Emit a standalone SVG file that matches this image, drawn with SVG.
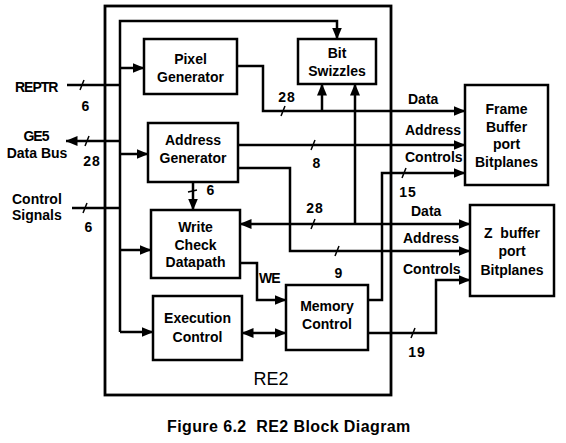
<svg xmlns="http://www.w3.org/2000/svg" width="566" height="443" viewBox="0 0 566 443">
<defs>
<marker id="ah" viewBox="0 0 12 10" refX="11.5" refY="5" markerWidth="12" markerHeight="10" markerUnits="userSpaceOnUse" orient="auto-start-reverse">
<path d="M0,0 L12,5 L0,10 z" fill="#000"/>
</marker>
<style>
.box{fill:#fff;stroke:#000;stroke-width:2.5}
.frame{fill:none;stroke:#000;stroke-width:2.8}
.ln{fill:none;stroke:#000;stroke-width:2.5}
.arr{fill:none;stroke:#000;stroke-width:2.5;marker-end:url(#ah)}
.dbl{fill:none;stroke:#000;stroke-width:2.5;marker-start:url(#ah);marker-end:url(#ah)}
.tick{stroke:#000;stroke-width:1.5}
text{font-family:"Liberation Sans",Arial,sans-serif;font-size:14px;font-weight:bold;fill:#000;white-space:pre}
.c{text-anchor:middle}
.num{font-size:14px;letter-spacing:1px}
.re2{font-size:18px;font-weight:normal}
.cap{font-size:16px;letter-spacing:0.4px}
</style>
</defs>
<rect width="566" height="443" fill="#fff"/>
<rect id="re2-frame" class="frame" x="105" y="6" width="286" height="389"/>
<text class="re2 c" x="271" y="385">RE2</text>

<g id="connectors">
<path class="arr" d="M120,332 V21 H337 V39"/>
<path class="arr" d="M120,68 H144"/>
<path class="arr" d="M120,154 H148"/>
<path class="arr" d="M120,250 H151"/>
<path class="arr" d="M120,332 H153"/>
<path class="ln" d="M67,85 H120"/>
<path class="arr" d="M120,141 H66"/>
<path class="ln" d="M72,208 H120"/>
<path class="arr" d="M237,66 H263 V111 H465"/>
<path class="arr" d="M322,111 V84"/>
<path class="arr" d="M238,145 H465"/>
<path class="arr" d="M238,168 H290 V251 H470"/>
<path class="arr" d="M193,182 V210"/>
<path class="dbl" d="M240,224 H470"/>
<path class="arr" d="M355,224 V84"/>
<path class="arr" d="M240,263 H257 V300 H286"/>
<path class="dbl" d="M242,333 H286"/>
<path class="arr" d="M368,300 H382 V173 H465"/>
<path class="arr" d="M368,333 H436 V280 H470"/>
<line class="tick" x1="80" y1="90" x2="84" y2="80"/>
<line class="tick" x1="85" y1="146" x2="89" y2="136"/>
<line class="tick" x1="83" y1="213" x2="87" y2="203"/>
<line class="tick" x1="188" y1="192" x2="197" y2="190"/>
<line class="tick" x1="281" y1="116" x2="285" y2="106"/>
<line class="tick" x1="311" y1="150" x2="315" y2="140"/>
<line class="tick" x1="311" y1="229" x2="315" y2="219"/>
<line class="tick" x1="335" y1="256" x2="339" y2="246"/>
<line class="tick" x1="402" y1="178" x2="406" y2="168"/>
<line class="tick" x1="411" y1="338" x2="415" y2="328"/>
<text class="num c" x="86" y="111">6</text>
<text class="num c" x="92" y="166">28</text>
<text class="num c" x="89" y="232">6</text>
<text class="num c" x="211" y="195">6</text>
<text class="num c" x="287" y="102">28</text>
<text class="num c" x="317" y="168">8</text>
<text class="num c" x="315" y="213">28</text>
<text class="num c" x="339" y="278">9</text>
<text class="num c" x="408" y="197">15</text>
<text class="num c" x="417" y="357">19</text>
<text x="259" y="283" style="letter-spacing:-1px">WE</text>
<text x="408" y="104">Data</text>
<text x="405" y="135">Address</text>
<text x="405" y="162">Controls</text>
<text x="411" y="216">Data</text>
<text x="403" y="243">Address</text>
<text x="403" y="274">Controls</text>
</g>

<g id="in-reptr"><text x="15" y="92" style="letter-spacing:-1px">REPTR</text></g>
<g id="io-ge5"><text class="c" x="36" y="141" style="letter-spacing:-1px">GE5</text><text class="c" x="37" y="158">Data Bus</text></g>
<g id="in-control"><text x="12" y="204">Control</text><text x="12" y="220">Signals</text></g>

<g id="pixel-generator"><rect class="box" x="144" y="39" width="93" height="55"/>
<text class="c" x="190.5" y="64">Pixel</text><text class="c" x="190.5" y="82">Generator</text></g>
<g id="address-generator"><rect class="box" x="148" y="123" width="90" height="59"/>
<text class="c" x="193" y="145">Address</text><text class="c" x="193" y="163">Generator</text></g>
<g id="write-check-datapath"><rect class="box" x="151" y="210" width="89" height="68"/>
<text class="c" x="195.5" y="232">Write</text><text class="c" x="195.5" y="250">Check</text><text class="c" x="195.5" y="267">Datapath</text></g>
<g id="execution-control"><rect class="box" x="153" y="296" width="89" height="64"/>
<text class="c" x="197.5" y="323">Execution</text><text class="c" x="197.5" y="342">Control</text></g>
<g id="memory-control"><rect class="box" x="286" y="285" width="82" height="65"/>
<text class="c" x="327" y="311">Memory</text><text class="c" x="327" y="329">Control</text></g>
<g id="bit-swizzles"><rect class="box" x="298" y="39" width="78" height="45"/>
<text class="c" x="337" y="58">Bit</text><text class="c" x="337" y="76">Swizzles</text></g>
<g id="frame-buffer"><rect class="box" x="465" y="85" width="83" height="100"/>
<text class="c" x="506.5" y="114">Frame</text><text class="c" x="506.5" y="132">Buffer</text><text class="c" x="506.5" y="149">port</text><text class="c" x="506.5" y="167">Bitplanes</text></g>
<g id="z-buffer"><rect class="box" x="470" y="205" width="84" height="91"/>
<text class="c" x="512" y="238">Z  buffer</text><text class="c" x="512" y="256">port</text><text class="c" x="512" y="275">Bitplanes</text></g>

<text class="cap" x="167" y="432">Figure 6.2  RE2 Block Diagram</text>
</svg>
